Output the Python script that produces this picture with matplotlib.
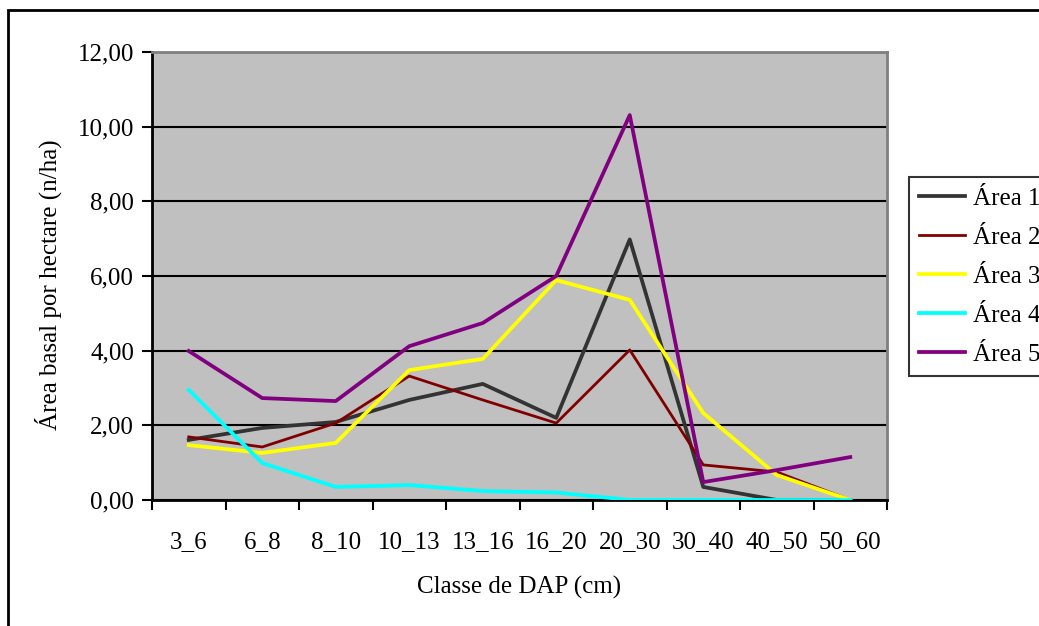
import matplotlib
matplotlib.use("Agg")
from matplotlib import pyplot as plt
from matplotlib.patches import Rectangle
from matplotlib.ticker import FuncFormatter
import numpy as np

plt.rcParams['font.family'] = ['Liberation Serif', 'DejaVu Serif']

# DAP classes and basal area per hectare for each area
classes = ["3_6", "6_8", "8_10", "10_13", "13_16", "16_20", "20_30", "30_40", "40_50", "50_60"]
area1 = [1.61, 1.93, 2.09, 2.68, 3.11, 2.20, 6.98, 0.35, 0.00, 0.00]
area2 = [1.69, 1.42, 2.06, 3.32, 2.68, 2.06, 4.02, 0.94, 0.75, 0.00]
area3 = [1.47, 1.26, 1.53, 3.48, 3.78, 5.89, 5.36, 2.33, 0.67, 0.00]
area4 = [2.95, 0.99, 0.35, 0.40, 0.24, 0.20, 0.00, 0.00, 0.00, 0.00]
area5 = [3.99, 2.73, 2.65, 4.12, 4.74, 6.00, 10.31, 0.48, 0.80, 1.15]
series_names = ["Área 1", "Área 2", "Área 3", "Área 4", "Área 5"]
series_colors = ["#333333", "#800000", "#ffff00", "#00ffff", "#800080"]
series_widths = [2.7, 2.0, 2.7, 2.7, 2.7]
yticks = [0, 2, 4, 6, 8, 10, 12]

W, H = 1039, 626
FS = 18
fig = plt.figure(figsize=(W / 100, H / 100), dpi=100)
fig.patch.set_facecolor("white")

# outer chart frame (only left and top edges visible)
fig.add_artist(Rectangle((8 / W, -0.1), 1.2, 1 - 10 / H + 0.1, transform=fig.transFigure,
                         fill=False, edgecolor="black", linewidth=2))

ax = fig.add_axes([152 / W, 1 - 500 / H, (887 - 152) / W, (500 - 52) / H])
ax.set_facecolor("#c0c0c0")

x = np.arange(len(classes))
data = [area1, area2, area3, area4, area5]
lines = []
for vals, name, col, lw in zip(data, series_names, series_colors, series_widths):
    ln, = ax.plot(x, vals, color=col, linewidth=lw, label=name, zorder=3)
    lines.append(ln)

ax.set_xlim(-0.5, len(classes) - 0.5)
ax.set_ylim(0, 12)
ax.set_yticks(yticks)
ax.yaxis.set_major_formatter(FuncFormatter(lambda v, p: f"{v:.2f}".replace(".", ",")))
ax.grid(axis="y", color="black", linewidth=1.5, zorder=1)
ax.set_axisbelow(True)

ax.set_xticks(x)
ax.set_xticklabels(classes)
ax.set_xticks(np.arange(len(classes) + 1) - 0.5, minor=True)
ax.tick_params(axis="x", which="major", length=0, pad=22, labelsize=FS)
ax.tick_params(axis="x", which="minor", length=7, width=1.5, direction="out")
ax.tick_params(axis="y", length=7, width=1.5, direction="out", pad=6, labelsize=FS)

for side in ["left", "bottom"]:
    ax.spines[side].set_color("black")
    ax.spines[side].set_linewidth(2)
for side in ["top", "right"]:
    ax.spines[side].set_color("#808080")
    ax.spines[side].set_linewidth(2)

ax.set_xlabel("Classe de DAP (cm)", fontsize=FS, labelpad=17)
ax.set_ylabel("Área basal por hectare (n/ha)", fontsize=FS)
ax.yaxis.set_label_coords(-0.122, 0.48)

leg = fig.legend(handles=lines, loc="upper left", bbox_to_anchor=(909 / W, 1 - 177 / H),
                 fontsize=FS, frameon=True, fancybox=False, edgecolor="black",
                 handlelength=1.85, handletextpad=0.3, labelspacing=0.66, borderpad=0.4,
                 borderaxespad=0)
leg.get_frame().set_linewidth(1.5)

fig.savefig("out.png", dpi=100)
